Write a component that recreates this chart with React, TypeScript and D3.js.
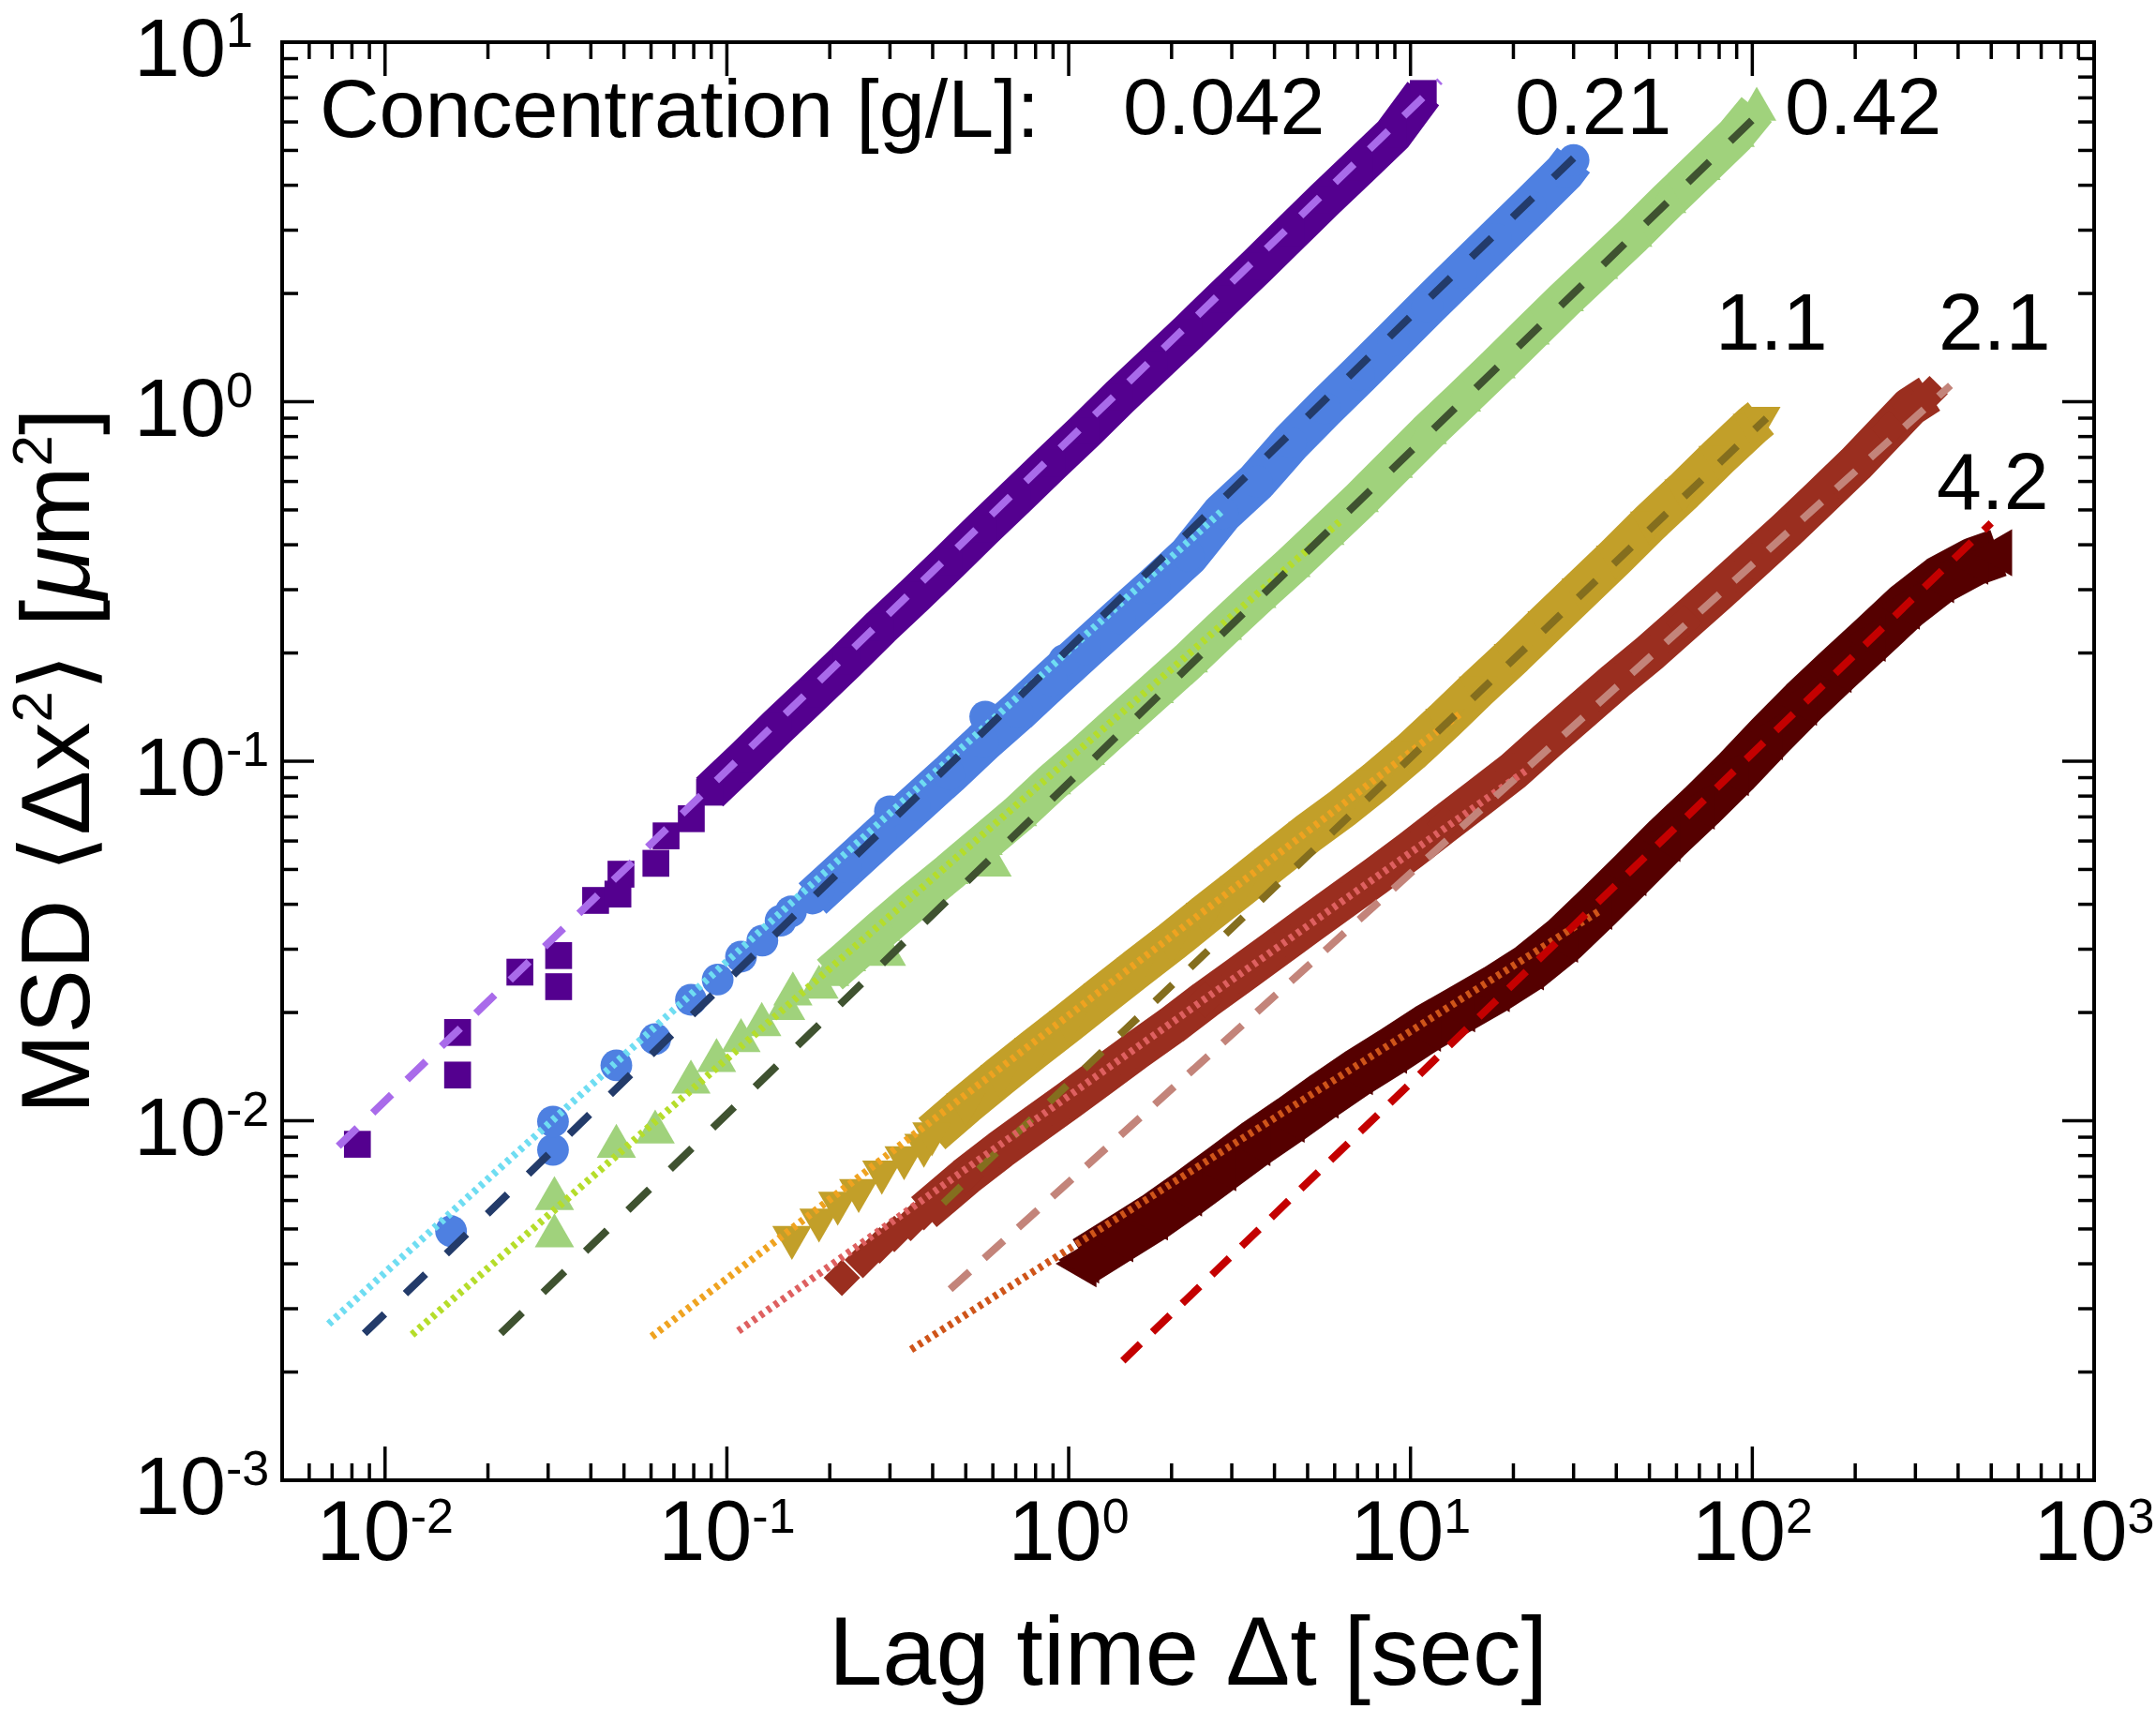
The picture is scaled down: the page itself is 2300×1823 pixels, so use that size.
import React from 'react'
import * as d3 from 'd3'

// concentrations in g/L, one series each
const concentrations = ['0.042', '0.21', '0.42', '1.1', '2.1', '4.2']

// [lag time (s), MSD (um^2)]
// single markers at short lags
const sparse042: [number, number][] = [
  [0.0083, 0.0086], [0.0163, 0.0134], [0.0163, 0.0176], [0.0248, 0.0259], [0.0322, 0.0288],
  [0.0322, 0.0236], [0.0413, 0.041], [0.048, 0.0427], [0.049, 0.0485], [0.062, 0.052],
  [0.0664, 0.062], [0.0787, 0.0692],
]
// dense part that merges into a band
const dense042: [number, number][] = [
  [0.089, 0.082], [0.112, 0.101], [0.141, 0.125], [0.178, 0.154], [0.224, 0.19], [0.282, 0.236],
  [0.355, 0.29], [0.447, 0.358], [0.562, 0.443], [0.708, 0.547], [0.891, 0.675], [1.12, 0.83],
  [1.41, 1.03], [1.78, 1.27], [2.24, 1.56], [2.82, 1.93], [3.55, 2.38], [4.47, 2.95],
  [5.62, 3.65], [7.08, 4.5], [8.91, 5.55], [10.9, 7.2],
]

const sparse021: [number, number][] = [
  [0.0156, 0.00493], [0.031, 0.0083], [0.031, 0.00995], [0.0475, 0.01426], [0.0617, 0.01687],
  [0.0785, 0.0217], [0.094, 0.0247], [0.11, 0.0286], [0.127, 0.0317], [0.1436, 0.036],
  [0.154, 0.0382], [0.186, 0.0438], [0.3, 0.0726], [0.57, 0.133], [0.97, 0.191],
  [1.74, 0.303], [2.25, 0.37], [2.82, 0.49],
]
const dense021: [number, number][] = [
  [0.178, 0.0415], [0.224, 0.0507], [0.282, 0.062], [0.355, 0.0755], [0.447, 0.092], [0.562, 0.113],
  [0.708, 0.137], [0.891, 0.168], [1.12, 0.205], [1.41, 0.25], [1.78, 0.305], [2.24, 0.373],
  [2.82, 0.49], [3.55, 0.6], [4.47, 0.77], [5.62, 0.96], [7.08, 1.19], [8.91, 1.48],
  [11.2, 1.84], [14.1, 2.28], [17.8, 2.83], [22.4, 3.5], [28.2, 4.35], [30, 4.7],
]

const sparse042b: [number, number][] = [
  [0.0313, 0.00607], [0.0313, 0.00478], [0.0475, 0.00848], [0.0617, 0.00929], [0.0785, 0.0128],
  [0.0933, 0.0147], [0.11, 0.0167], [0.1265, 0.0185], [0.1486, 0.0205], [0.156, 0.0225],
  [0.186, 0.0235], [0.293, 0.029], [0.597, 0.0514],
]
const dense042b: [number, number][] = [
  [0.2, 0.0255], [0.224, 0.028], [0.282, 0.034], [0.355, 0.041], [0.447, 0.049], [0.562, 0.059],
  [0.708, 0.071], [0.891, 0.087], [1.12, 0.105], [1.41, 0.128], [1.78, 0.156], [2.24, 0.19],
  [2.82, 0.234], [3.55, 0.287], [4.47, 0.35], [5.62, 0.43], [7.08, 0.53], [8.91, 0.66],
  [11.2, 0.82], [14.1, 1.01], [17.8, 1.25], [22.4, 1.55], [28.2, 1.92], [35.5, 2.36],
  [44.7, 2.9], [56.2, 3.6], [70.8, 4.45], [89.1, 5.5], [103, 6.5],
]

const sparse11: [number, number][] = [
  [0.155, 0.00474], [0.186, 0.0053], [0.211, 0.0059], [0.243, 0.0064], [0.284, 0.0072],
  [0.33, 0.0079], [0.377, 0.00855],
]
const dense11: [number, number][] = [
  [0.398, 0.0092], [0.5, 0.0111], [0.63, 0.0133], [0.79, 0.0158], [1.0, 0.0188], [1.26, 0.0224],
  [1.58, 0.0265], [2.0, 0.0315], [2.51, 0.0375], [3.16, 0.0445], [3.98, 0.053], [5.01, 0.063],
  [6.31, 0.074], [7.94, 0.088], [10, 0.106], [12.6, 0.13], [15.8, 0.16], [20, 0.197],
  [25.1, 0.243], [31.6, 0.3], [39.8, 0.37], [50.1, 0.46], [63.1, 0.565], [79.4, 0.7],
  [100, 0.86], [106, 0.9],
]

const sparse21: [number, number][] = [
  [0.217, 0.00366], [0.25, 0.0041], [0.28, 0.0045], [0.309, 0.00484], [0.345, 0.0052],
]
const dense21: [number, number][] = [
  [0.377, 0.00557], [0.5, 0.007], [0.63, 0.0083], [0.79, 0.0097], [1.0, 0.0114], [1.26, 0.0134],
  [1.58, 0.0157], [2.0, 0.0184], [2.51, 0.0217], [3.16, 0.0254], [3.98, 0.0298], [5.01, 0.035],
  [6.31, 0.041], [7.94, 0.048], [10, 0.0565], [12.6, 0.067], [15.8, 0.079], [20, 0.094],
  [25.1, 0.114], [31.6, 0.138], [39.8, 0.167], [50.1, 0.2], [63.1, 0.243], [79.4, 0.295],
  [100, 0.36], [126, 0.44], [158, 0.54], [200, 0.67], [251, 0.84], [290, 0.97], [330, 1.05],
]

const sparse42: [number, number][] = [[1.1, 0.004]]
const dense42: [number, number][] = [
  [1.12, 0.0041], [1.41, 0.0047], [1.78, 0.0054], [2.24, 0.0063], [2.82, 0.0074], [3.55, 0.0087],
  [4.47, 0.0101], [5.62, 0.0118], [7.08, 0.0137], [8.91, 0.0157], [11.2, 0.0181], [14.1, 0.0205],
  [17.8, 0.0233], [22.4, 0.0268], [28.2, 0.032], [35.5, 0.0395], [44.7, 0.049], [56.2, 0.061],
  [70.8, 0.075], [89.1, 0.093], [112, 0.117], [141, 0.146], [178, 0.18], [224, 0.22],
  [282, 0.27], [355, 0.32], [447, 0.36], [525, 0.38],
]

// power-law fits, given by their two end points
const fitLong042: [number, number][] = [[0.0073, 0.0085], [12.2, 7.8]]
const fitShort021: [number, number][] = [[0.00684, 0.00272], [2.85, 0.503]]
const fitLong021: [number, number][] = [[0.0087, 0.00256], [30.8, 4.88]]
const fitShort042b: [number, number][] = [[0.012, 0.00254], [6.24, 0.466]]
const fitLong042b: [number, number][] = [[0.0218, 0.00256], [113, 6.8]]
const fitShort11: [number, number][] = [[0.0603, 0.00251], [13.9, 0.135]]
const fitLong11: [number, number][] = [[0.43, 0.0059], [110, 0.9]]
const fitShort21: [number, number][] = [[0.108, 0.0026], [21.9, 0.0946]]
const fitLong21: [number, number][] = [[0.45, 0.0034], [380, 1.11]]
const fitShort42: [number, number][] = [[0.346, 0.00231], [35.5, 0.0382]]
const fitLong42: [number, number][] = [[1.44, 0.00215], [500, 0.46]]

const xExps = ['-2', '-1', '0', '1', '2', '3']
const yExps = ['-3', '-2', '-1', '0', '1']

const FONT = 'Liberation Sans, Arial, Helvetica, DejaVu Sans, sans-serif'

const L = 301, R = 2234, T = 45, B = 1579
const x = d3.scaleLog().domain([0.005, 1000]).range([L, R])
const y = d3.scaleLog().domain([0.001, 10]).range([B, T])

const series = [
  { sparse: sparse042, dense: dense042, color: '#54008F', shape: d3.symbolSquare, size: 820, rot: 0, band: 42 },
  { sparse: sparse021, dense: dense021, color: '#4E80E1', shape: d3.symbolCircle, size: 900, rot: 0, band: 44 },
  { sparse: sparse042b, dense: dense042b, color: '#A0D27C', shape: d3.symbolTriangle, size: 760, rot: 0, band: 42 },
  { sparse: sparse11, dense: dense11, color: '#C29F29', shape: d3.symbolTriangle, size: 760, rot: 180, band: 44 },
  { sparse: sparse21, dense: dense21, color: '#9A2E1F', shape: d3.symbolSquare, size: 760, rot: 45, band: 42 },
  { sparse: sparse42, dense: dense42, color: '#550000', shape: d3.symbolTriangle, size: 1100, rot: -90, band: 52 },
]

const fits = [
  { pts: fitLong042, color: '#A96BEA', dash: '28 23' },
  { pts: fitShort021, color: '#6FDDF2', dash: '4.5 5' },
  { pts: fitLong021, color: '#233B6A', dash: '30 31' },
  { pts: fitShort042b, color: '#B5DD2A', dash: '4.5 5' },
  { pts: fitLong042b, color: '#3F5230', dash: '32 31' },
  { pts: fitShort11, color: '#EFA320', dash: '4.5 5' },
  { pts: fitLong11, color: '#846E1E', dash: '26 26' },
  { pts: fitShort21, color: '#DE6060', dash: '4.5 5' },
  { pts: fitLong21, color: '#C3847A', dash: '28 21' },
  { pts: fitShort42, color: '#CF5419', dash: '4.5 5' },
  { pts: fitLong42, color: '#C40000', dash: '26 18' },
]

const line = d3.line<[number, number]>().x(d => x(d[0])).y(d => y(d[1]))

const isDecade = (v: number) => Math.abs(Math.log10(v) - Math.round(Math.log10(v))) < 1e-9

export default function App() {
  const xt = x.ticks()
  const yt = y.ticks()

  return (
    <svg width={2300} height={1823} style={{ position: 'absolute', left: 0, top: 0, background: '#fff' }}
      fontFamily={FONT}>
      <rect width={2300} height={1823} fill="#fff" />

      {/* data */}
      {series.map((s, i) => {
        const sym = d3.symbol(s.shape, s.size)()
        const all = s.sparse.concat(s.dense)
        return (
          <g key={i}>
            <path d={line(s.dense) || ''} fill="none" stroke={s.color} strokeWidth={s.band}
              strokeLinejoin="round" />
            {all.map((d, j) => (
              <path key={j} d={sym || ''} fill={s.color}
                transform={`translate(${x(d[0])},${y(d[1])}) rotate(${s.rot})`} />
            ))}
          </g>
        )
      })}

      {/* fits */}
      {fits.map((f, i) => (
        <path key={i} d={line(f.pts) || ''} fill="none" stroke={f.color} strokeWidth={8}
          strokeDasharray={f.dash} />
      ))}

      {/* frame + ticks */}
      <rect x={L} y={T} width={R - L} height={B - T} fill="none" stroke="#000" strokeWidth={4} />
      {xt.map((v, i) => {
        const len = isDecade(v) ? 36 : 18
        const px = x(v)
        return (
          <g key={i} stroke="#000" strokeWidth={3.5}>
            <line x1={px} x2={px} y1={B} y2={B - len} />
            <line x1={px} x2={px} y1={T} y2={T + len} />
          </g>
        )
      })}
      {yt.map((v, i) => {
        const len = isDecade(v) ? 34 : 17
        const py = y(v)
        return (
          <g key={i} stroke="#000" strokeWidth={3.5}>
            <line x1={L} x2={L + len} y1={py} y2={py} />
            <line x1={R} x2={R - len} y1={py} y2={py} />
          </g>
        )
      })}

      {/* tick labels */}
      {xExps.map((e, i) => (
        <text key={i} x={x(Math.pow(10, +e))} y={1664} textAnchor="middle" fontSize={90}>
          10<tspan dy={-29} fontSize={52}>{e}</tspan>
        </text>
      ))}
      {yExps.map((e, i) => (
        <text key={i} x={143} y={y(Math.pow(10, +e)) + 36} fontSize={88}>
          10<tspan dy={-31} fontSize={52}>{e}</tspan>
        </text>
      ))}

      {/* axis titles */}
      <text x={(L + R) / 2} y={1797} textAnchor="middle" fontSize={103}>Lag time Δt [sec]</text>
      <text transform={`translate(95,${(T + B) / 2}) rotate(-90)`} textAnchor="middle" fontSize={103}>
        MSD ⟨Δx<tspan dy={-40} fontSize={60}>2</tspan><tspan dy={40}>⟩ [</tspan>
        <tspan fontStyle="italic">μ</tspan>m<tspan dy={-40} fontSize={60}>2</tspan>
        <tspan dy={40}>]</tspan>
      </text>

      {/* concentration labels */}
      <text x={341} y={146} fontSize={88}>Concentration [g/L]:</text>
      <text x={1198} y={143} fontSize={86}>{concentrations[0]}</text>
      <text x={1616} y={143} fontSize={86}>{concentrations[1]}</text>
      <text x={1904} y={143} fontSize={86}>{concentrations[2]}</text>
      <text x={1830} y={373} fontSize={86}>{concentrations[3]}</text>
      <text x={2068} y={373} fontSize={86}>{concentrations[4]}</text>
      <text x={2066} y={543} fontSize={86}>{concentrations[5]}</text>
    </svg>
  )
}
